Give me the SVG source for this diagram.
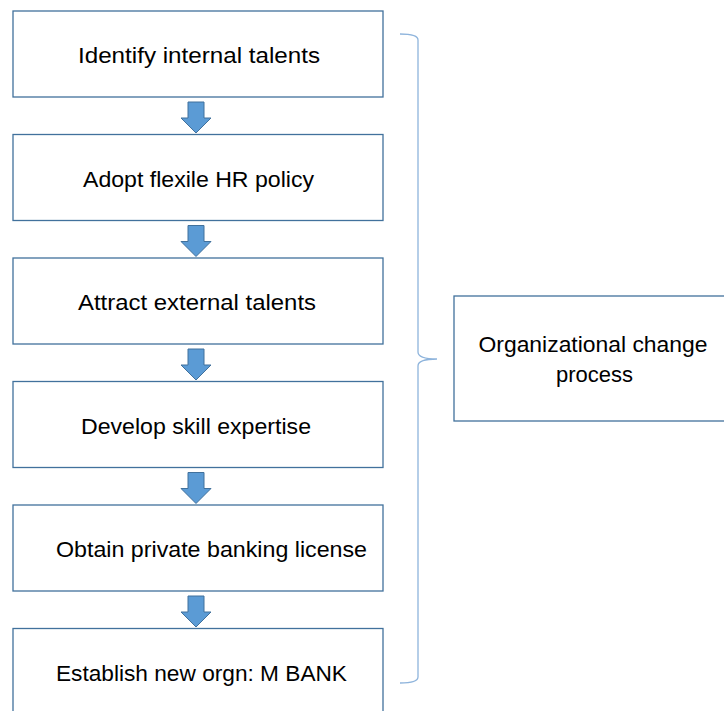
<svg xmlns="http://www.w3.org/2000/svg" width="724" height="711" viewBox="0 0 724 711">
<style>
.box{fill:#fff;stroke:#41719C;stroke-width:1.3}
.t{font-family:"Liberation Sans",Arial,sans-serif;font-size:22px;fill:#000;text-anchor:middle}
.arr{fill:#5B9BD5;stroke:#41719C;stroke-width:1}
.br{fill:none;stroke:#8EB4DC;stroke-width:1.3}
</style>
<defs>
<path id="ar" d="M188,102 H204 V118 H211 L196,133 L181,118 H188 Z"/>
</defs>
<rect width="724" height="711" fill="#fff"/>
<g id="n1"><rect class="box" x="13" y="11" width="370" height="86"/><text class="t" x="199" y="63" textLength="242" lengthAdjust="spacingAndGlyphs">Identify internal talents</text></g>
<g id="n2"><rect class="box" x="13" y="134.5" width="370" height="86"/><text class="t" x="198.5" y="186.5" textLength="231" lengthAdjust="spacingAndGlyphs">Adopt flexile HR policy</text></g>
<g id="n3"><rect class="box" x="13" y="258" width="370" height="86"/><text class="t" x="197" y="310" textLength="238" lengthAdjust="spacingAndGlyphs">Attract external talents</text></g>
<g id="n4"><rect class="box" x="13" y="381.5" width="370" height="86"/><text class="t" x="196" y="433.5" textLength="230" lengthAdjust="spacingAndGlyphs">Develop skill expertise</text></g>
<g id="n5"><rect class="box" x="13" y="505" width="370" height="86"/><text class="t" x="211.5" y="557" textLength="311" lengthAdjust="spacingAndGlyphs">Obtain private banking license</text></g>
<g id="n6"><rect class="box" x="13" y="628.5" width="370" height="90"/><text class="t" x="201.5" y="680.5" textLength="291" lengthAdjust="spacingAndGlyphs">Establish new orgn: M BANK</text></g>
<g id="n7"><rect class="box" x="454" y="296" width="280" height="125"/><text class="t" x="593" y="352" textLength="229" lengthAdjust="spacingAndGlyphs">Organizational change</text><text class="t" x="594.5" y="382" textLength="77" lengthAdjust="spacingAndGlyphs">process</text></g>
<g id="connectors">
<use href="#ar" class="arr"/>
<use href="#ar" class="arr" transform="translate(0,123.5)"/>
<use href="#ar" class="arr" transform="translate(0,247)"/>
<use href="#ar" class="arr" transform="translate(0,370.5)"/>
<use href="#ar" class="arr" transform="translate(0,494)"/>
<path class="br" d="M400,34 Q418,34 418,40 V352 Q418,359 437,359 Q418,359 418,366 V677 Q418,683 400,683"/>
</g>
</svg>
